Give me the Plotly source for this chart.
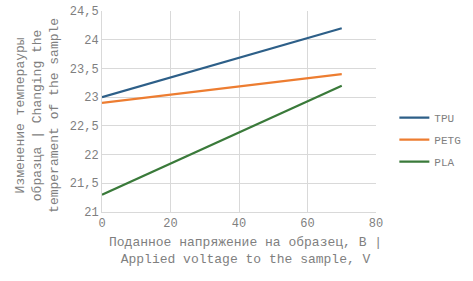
import plotly.graph_objects as go

voltage = [0, 10, 20, 30, 40, 50, 60, 70]
tpu = [23.0, 23.17, 23.34, 23.51, 23.69, 23.86, 24.03, 24.2]
petg = [22.9, 22.97, 23.04, 23.11, 23.19, 23.26, 23.33, 23.4]
pla = [21.3, 21.57, 21.84, 22.11, 22.39, 22.66, 22.93, 23.2]

series_names = ["TPU", "PETG", "PLA"]
series_values = [tpu, petg, pla]
colors = ["#2D5F88", "#ED7D31", "#3A7A3A"]

x_ticks = [0, 20, 40, 60, 80]
y_ticks = [21, 21.5, 22, 22.5, 23, 23.5, 24, 24.5]

x_title = "Поданное напряжение на образец, В |<br>Applied voltage to the sample, V"
y_title = "Изменение темперауры<br>образца | Changing the<br>temperament of the sample"

font_family = "Liberation Mono, Courier New, monospace"
text_color = "#7F7F7F"

fig = go.Figure()
for i, (name, vals, col) in enumerate(zip(series_names, series_values, colors)):
    fig.add_trace(go.Scatter(
        x=voltage, y=vals, mode="lines", name=name,
        line=dict(color=col, width=2.2), legendgroup=str(i),
    ))

fig.update_layout(
    width=473, height=281,
    margin=dict(l=102, r=97, t=11, b=69, autoexpand=False),
    paper_bgcolor="white", plot_bgcolor="white",
    separators=", ",
    font=dict(family=font_family, color=text_color, size=12),
    showlegend=True,
    legend=dict(
        x=1.067, y=0.36, xanchor="left", yanchor="middle",
        font=dict(size=11, color=text_color, family=font_family),
        traceorder="grouped", tracegroupgap=3,
        bgcolor="rgba(0,0,0,0)",
    ),
    xaxis=dict(
        range=[0, 80], tickvals=x_ticks, showgrid=True, gridcolor="#D9D9D9",
        zeroline=False, showline=True, linecolor="#D9D9D9", ticks="",
        tickfont=dict(size=12), automargin=False,
    ),
    yaxis=dict(
        range=[21, 24.5], tickvals=y_ticks, showgrid=True, gridcolor="#D9D9D9",
        zeroline=False, showline=True, linecolor="#D9D9D9", ticks="",
        tickformat=".1~f", tickfont=dict(size=12), automargin=False,
    ),
    annotations=[
        dict(text=x_title, xref="paper", yref="paper", x=0.522, y=-0.1965,
             xanchor="center", yanchor="middle", showarrow=False,
             font=dict(size=13, color=text_color, family=font_family)),
        dict(text=y_title, xref="paper", yref="paper", x=-0.2336, y=0.483,
             xanchor="center", yanchor="middle", showarrow=False, textangle=-90,
             font=dict(size=13, color=text_color, family=font_family)),
    ],
)

fig.write_html(
    "out.html",
    config={"displayModeBar": False},
    post_script="document.body.style.margin='0';document.body.style.padding='0';",
)
